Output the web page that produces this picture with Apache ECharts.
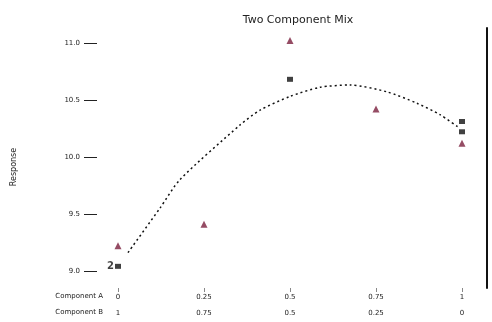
<!DOCTYPE html>
<html>
<head>
<meta charset="utf-8">
<script src="https://cdn.jsdelivr.net/npm/echarts@6/dist/echarts.min.js"></script>
<style>html,body{margin:0;padding:0;background:#fff}#c{width:492px;height:322px}</style>
</head>
<body>
<div id="c"></div>
<script>
// Mixture proportions and responses
const fracA = [0, 0.25, 0.5, 0.75, 1];
const yTicks = [9, 9.5, 10, 10.5, 11];
const rowNames = ['Component A', 'Component B'];

const redX = [0, 0.25, 0.5, 0.75, 1];
const redY = [9.22, 9.41, 11.02, 10.42, 10.12];

const blackX = [0, 0.5, 1, 1];
const blackY = [9.04, 10.68, 10.31, 10.22];
const blackCount = [2, 1, 1, 1];

// fitted response curve
const fitX = [0.029, 0.122, 0.18, 0.355, 0.413, 0.5, 0.587, 0.674, 0.782, 0.869, 0.936, 0.994];
const fitY = [9.16, 9.55, 9.80, 10.28, 10.41, 10.53, 10.61, 10.63, 10.57, 10.47, 10.37, 10.25];

const chart = echarts.init(document.getElementById('c'));
const lbl = { fontSize: 7, color: '#222', fontFamily: 'DejaVu Sans' };

chart.setOption({
  animation: false,
  title: {
    text: 'Two Component Mix', left: 293, top: 10, textAlign: 'center',
    textStyle: { fontSize: 11, fontWeight: 'normal', color: '#222', fontFamily: 'DejaVu Sans' }
  },
  grid: { left: 97, right: 30, top: 28, bottom: 34 },
  graphic: rowNames.map((t, i) => ({
    type: 'text', right: 389, top: 293 + i * 16,
    style: { text: t, fill: '#222', font: '7px DejaVu Sans' }
  })),
  xAxis: [{
    type: 'value', min: -0.061, max: 1, position: 'bottom',
    axisLine: { show: false, onZero: false }, splitLine: { show: false },
    axisTick: { show: true, length: 4, lineStyle: { color: '#888' }, customValues: fracA },
    axisLabel: Object.assign({ margin: 9, verticalAlign: 'middle', customValues: fracA }, lbl)
  }, {
    type: 'value', min: 0, max: 1.061, inverse: true, position: 'bottom', offset: 16,
    axisLine: { show: false, onZero: false }, splitLine: { show: false }, axisTick: { show: false },
    axisLabel: Object.assign({ margin: 9, verticalAlign: 'middle', customValues: fracA }, lbl)
  }],
  yAxis: [{
    type: 'value', min: 8.85, max: 11.13,
    axisLine: { show: false, onZero: false }, splitLine: { show: false },
    axisTick: { show: true, length: 13, lineStyle: { color: '#222' }, customValues: yTicks },
    axisLabel: Object.assign({ margin: 17, customValues: yTicks, formatter: v => v.toFixed(1) }, lbl),
    name: 'Response', nameLocation: 'middle', nameGap: 79,
    nameTextStyle: Object.assign({}, lbl, { fontSize: 8, padding: [0, 18, 0, 0] })
  }, {
    type: 'value', min: 8.85, max: 11.13, position: 'right', offset: 25,
    axisLine: { show: true, onZero: false, lineStyle: { color: '#111', width: 2 } },
    axisTick: { show: false }, axisLabel: { show: false }, splitLine: { show: false }
  }],
  series: [{
    type: 'line', smooth: 0.25, symbol: 'none',
    data: fitX.map((x, i) => [x, fitY[i]]),
    lineStyle: { color: '#111', width: 1.5, type: [2, 3] }
  }, {
    type: 'scatter', symbol: 'triangle', symbolSize: 7, clip: false,
    data: redX.map((x, i) => [x, redY[i]]),
    itemStyle: { color: '#7a1f3d' }
  }, {
    type: 'scatter', symbol: 'rect', symbolSize: [6, 5], clip: false,
    data: blackX.map((x, i) => [x, blackY[i], blackCount[i]]),
    itemStyle: { color: '#111' },
    label: {
      show: true, position: 'left', distance: 1,
      formatter: p => p.value[2] > 1 ? String(p.value[2]) : '',
      fontSize: 10, fontWeight: 'bold', color: '#111', fontFamily: 'DejaVu Sans'
    }
  }]
});
</script>
</body>
</html>
